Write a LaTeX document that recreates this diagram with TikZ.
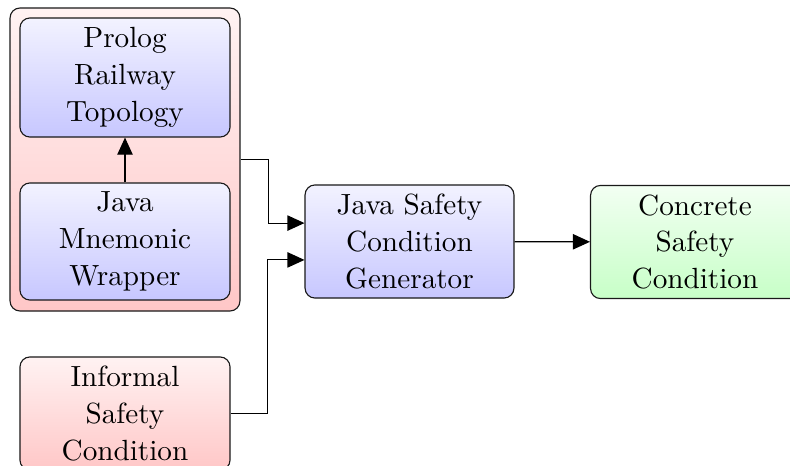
\documentclass[tikz,border=0pt]{standalone}
\usetikzlibrary{arrows.meta,calc}
\begin{document}
\begin{tikzpicture}[x=0.3528pt,y=-0.3528pt,
  box/.style={draw=black!90,line width=0.4pt,rounded corners=3.5pt,inner sep=0pt,
    align=center,font=\fontsize{10.3}{13}\selectfont},
  bluebox/.style={box,top color=blue!5,bottom color=blue!22},
  redbox/.style={box,top color=red!5,bottom color=red!22},
  greenbox/.style={box,top color=green!5,bottom color=green!22},
  arr/.style={draw=black,line width=0.4pt,-{Triangle[length=6pt,width=5.4pt]}}]
\useasboundingbox (0,0) rectangle (790,466);
\clip (0,0) rectangle (790,466);
\node[redbox,minimum width=81.1pt,minimum height=106.9pt] (cont) at (125,159.5) {};
\node[bluebox,minimum width=74.1pt,minimum height=42pt] (pr) at (125,77.5) {Prolog\\Railway\\Topology};
\node[bluebox,minimum width=74.1pt,minimum height=41.3pt] (mn) at (125,241.5) {Java\\Mnemonic\\Wrapper};
\node[redbox,minimum width=74.1pt,minimum height=39.9pt] (inf) at (125,413.5) {Informal\\Safety\\Condition};
\node[bluebox,minimum width=73.7pt,minimum height=39.9pt] (gen) at (409.5,241.5) {Java Safety\\Condition\\Generator};
\node[greenbox,minimum width=73.7pt,minimum height=39.9pt] (con) at (695,242) {Concrete\\Safety\\Condition};
\draw[arr] (mn) -- (pr);
\draw[arr] (cont.east) -- ++(28,0) |- ([yshift=6.5pt]gen.west);
\draw[arr] (inf.east) -- ++(37,0) |- ([yshift=-6.5pt]gen.west);
\draw[arr] (gen) -- (con);
\end{tikzpicture}
\end{document}
